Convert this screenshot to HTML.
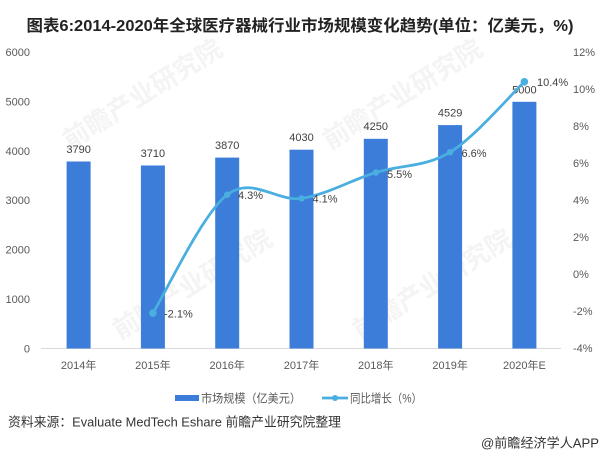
<!DOCTYPE html>
<html>
<head>
<meta charset="utf-8">
<style>
html,body{margin:0;padding:0;background:#fff;}
svg{display:block;}
text{font-family:"Liberation Sans","Noto Sans CJK SC",sans-serif;}
</style>
</head>
<body>
<svg width="600" height="454" viewBox="0 0 600 454" xmlns="http://www.w3.org/2000/svg">
<rect width="600" height="454" fill="#fff"/>

<!-- watermarks -->
<g fill="#f4f4f4" font-size="26" font-weight="bold">
  <text x="0" y="0" transform="translate(70,150) rotate(-32)">前瞻产业研究院</text>
  <text x="0" y="0" transform="translate(330,150) rotate(-32)">前瞻产业研究院</text>
  <text x="0" y="0" transform="translate(120,340) rotate(-32)">前瞻产业研究院</text>
  <text x="0" y="0" transform="translate(360,340) rotate(-32)">前瞻产业研究院</text>
</g>

<!-- title -->
<text x="300" y="31" text-anchor="middle" font-size="16" font-weight="bold" fill="#222" textLength="547" lengthAdjust="spacingAndGlyphs">图表6:2014-2020年全球医疗器械行业市场规模变化趋势(单位：亿美元，%)</text>

<!-- left axis labels -->
<g font-size="11" fill="#595959" text-anchor="end">
  <text x="30" y="56">6000</text>
  <text x="30" y="105.4">5000</text>
  <text x="30" y="154.8">4000</text>
  <text x="30" y="204.2">3000</text>
  <text x="30" y="253.6">2000</text>
  <text x="30" y="303">1000</text>
  <text x="30" y="352.4">0</text>
</g>

<!-- right axis labels -->
<g font-size="11" fill="#595959">
  <text x="573" y="56">12%</text>
  <text x="573" y="93">10%</text>
  <text x="573" y="130">8%</text>
  <text x="573" y="167">6%</text>
  <text x="573" y="204">4%</text>
  <text x="573" y="241">2%</text>
  <text x="573" y="278">0%</text>
  <text x="573" y="315">-2%</text>
  <text x="573" y="352">-4%</text>
</g>

<!-- axis line -->
<line x1="41" y1="348.5" x2="561" y2="348.5" stroke="#d9d9d9" stroke-width="1"/>

<!-- bars -->
<g fill="#3b7dd8">
  <rect x="66.6" y="161.5" width="24" height="187"/>
  <rect x="140.9" y="165.5" width="24" height="183"/>
  <rect x="215.2" y="157.6" width="24" height="190.9"/>
  <rect x="289.5" y="149.7" width="24" height="198.8"/>
  <rect x="363.8" y="138.8" width="24" height="209.7"/>
  <rect x="438.1" y="125.1" width="24" height="223.4"/>
  <rect x="512.4" y="101.8" width="24" height="246.7"/>
</g>

<!-- bar labels -->
<g font-size="11" fill="#404040" text-anchor="middle">
  <text x="78.6" y="153">3790</text>
  <text x="152.9" y="157">3710</text>
  <text x="227.2" y="149">3870</text>
  <text x="301.5" y="141">4030</text>
  <text x="375.8" y="130">4250</text>
  <text x="450.1" y="116.5">4529</text>
  <text x="524.4" y="93.3">5000</text>
</g>

<!-- line -->
<path d="M152.9,313.1 C165.3,293.4 202.4,213.8 227.2,194.7 C252.0,175.6 276.7,202.1 301.5,198.4 C326.3,194.7 351.0,180.2 375.8,172.5 C400.6,164.8 425.3,167.3 450.1,152.2 C474.9,137.1 512.0,93.5 524.4,81.8" fill="none" stroke="#4aaee0" stroke-width="2.75" stroke-linecap="round"/>
<g fill="#4aaee0">
  <circle cx="152.9" cy="313.1" r="3.8"/>
  <circle cx="227.2" cy="194.7" r="3.2"/>
  <circle cx="301.5" cy="198.4" r="3.2"/>
  <circle cx="375.8" cy="172.5" r="3.2"/>
  <circle cx="450.1" cy="152.2" r="3.2"/>
  <circle cx="524.4" cy="81.8" r="3.8"/>
</g>

<!-- percent labels -->
<g font-size="11" fill="#404040">
  <text x="164" y="317.5">-2.1%</text>
  <text x="238" y="199">4.3%</text>
  <text x="312.5" y="202.5">4.1%</text>
  <text x="387" y="178">5.5%</text>
  <text x="461.5" y="157">6.6%</text>
  <text x="537" y="86">10.4%</text>
</g>

<!-- category labels -->
<g font-size="11" fill="#595959" text-anchor="middle">
  <text x="78.6" y="369">2014年</text>
  <text x="152.9" y="369">2015年</text>
  <text x="227.2" y="369">2016年</text>
  <text x="301.5" y="369">2017年</text>
  <text x="375.8" y="369">2018年</text>
  <text x="450.1" y="369">2019年</text>
  <text x="524.4" y="369">2020年E</text>
</g>

<!-- legend -->
<rect x="175" y="395" width="24" height="6" fill="#3b7dd8"/>
<text x="201" y="402.5" font-size="12" fill="#595959" textLength="100" lengthAdjust="spacingAndGlyphs">市场规模（亿美元）</text>
<line x1="322" y1="398" x2="348" y2="398" stroke="#4aaee0" stroke-width="2.75"/>
<circle cx="335" cy="398" r="3" fill="#4aaee0"/>
<text x="350" y="402.5" font-size="12" fill="#595959" textLength="72" lengthAdjust="spacingAndGlyphs">同比增长（%）</text>

<!-- source -->
<text x="8" y="426.5" font-size="13" fill="#333" textLength="333" lengthAdjust="spacingAndGlyphs">资料来源：Evaluate MedTech Eshare 前瞻产业研究院整理</text>
<text x="599" y="447.5" font-size="13" fill="#333" text-anchor="end" textLength="118" lengthAdjust="spacingAndGlyphs">@前瞻经济学人APP</text>
</svg>
</body>
</html>
